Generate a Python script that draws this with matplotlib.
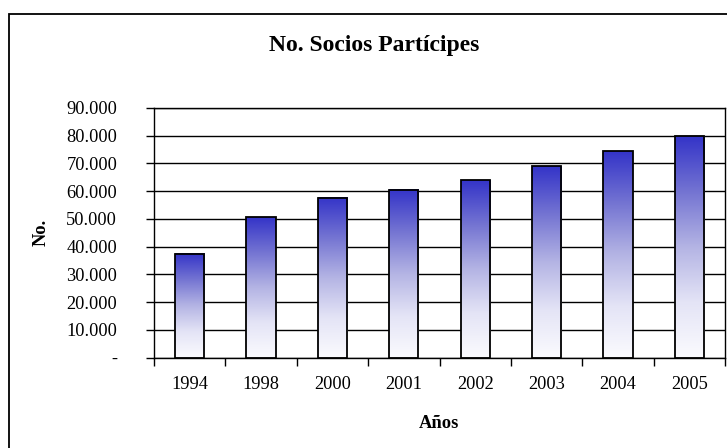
import matplotlib
matplotlib.use('Agg')
import matplotlib.pyplot as plt
import numpy as np
from matplotlib.colors import LinearSegmentedColormap
from matplotlib.patches import Rectangle
from matplotlib.ticker import FuncFormatter, FixedLocator

# data
years = ['1994', '1998', '2000', '2001', '2002', '2003', '2004', '2005']
socios = [37500, 50700, 57700, 60600, 63900, 69200, 74600, 80000]

title = 'No. Socios Partícipes'
xlabel = 'Años'
ylabel = 'No.'

plt.rcParams['font.family'] = ['Liberation Serif', 'DejaVu Serif']

fig = plt.figure(figsize=(7.27, 4.48), dpi=100)
ax = fig.add_axes([154 / 727, 1 - 357.7 / 448, (725 - 154) / 727, (357.7 - 108) / 448])

# outer chart border, cut off by the right and bottom image edges
fig.patches.append(Rectangle((9 / 727, -0.1), 1.2, 1.1 - 14 / 448, transform=fig.transFigure,
                             fill=False, edgecolor='black', linewidth=1.3))

x = np.arange(len(years))
width = 0.41
# white at the base of each bar, blue at its top
cmap = LinearSegmentedColormap.from_list('grad', [(0, '#fbfbfe'), (0.25, '#e4e4f6'), (0.5, '#b4b4e4'),
                                                  (0.75, '#7474d2'), (1, '#3434c8')])
grad = np.linspace(0, 1, 256).reshape(-1, 1)

for xi, val in zip(x, socios):
    ax.imshow(grad, cmap=cmap, origin='lower', aspect='auto', interpolation='bilinear',
              extent=(xi - width / 2, xi + width / 2, 0, val), zorder=2)
ax.bar(x, socios, width=width, fill=False, edgecolor='black', linewidth=1.3, zorder=3)

ax.set_xlim(-0.5, len(years) - 0.5)
ax.set_ylim(0, 90000)

ax.set_yticks(np.arange(0, 90001, 10000))
ax.yaxis.set_major_formatter(FuncFormatter(lambda v, p: '-' if v == 0 else '{:,.0f}'.format(v).replace(',', '.')))
ax.grid(axis='y', color='black', linewidth=1.0, zorder=1)
ax.set_axisbelow(True)

ax.set_xticks(x)
ax.set_xticklabels(years)
ax.xaxis.set_minor_locator(FixedLocator(np.arange(-0.5, len(years), 1.0)))
ax.tick_params(axis='x', which='major', length=0, pad=13, labelsize=13.2)
ax.tick_params(axis='x', which='minor', length=6, width=1, color='black')
ax.tick_params(axis='y', length=6, width=1, pad=20.5, labelsize=13.2)

for s in ax.spines.values():
    s.set_color('black')
    s.set_linewidth(1.0)

fig.text(374 / 727, 1 - 45 / 448, title, fontsize=17, fontweight='bold', ha='center', va='center')
fig.text(439 / 727, 1 - 423 / 448, xlabel, fontsize=13.3, fontweight='bold', ha='center', va='center')
fig.text(41 / 727, 1 - 232 / 448, ylabel, fontsize=13.3, fontweight='bold', ha='center', va='center',
         rotation=90)

fig.savefig('out.png', dpi=100)
